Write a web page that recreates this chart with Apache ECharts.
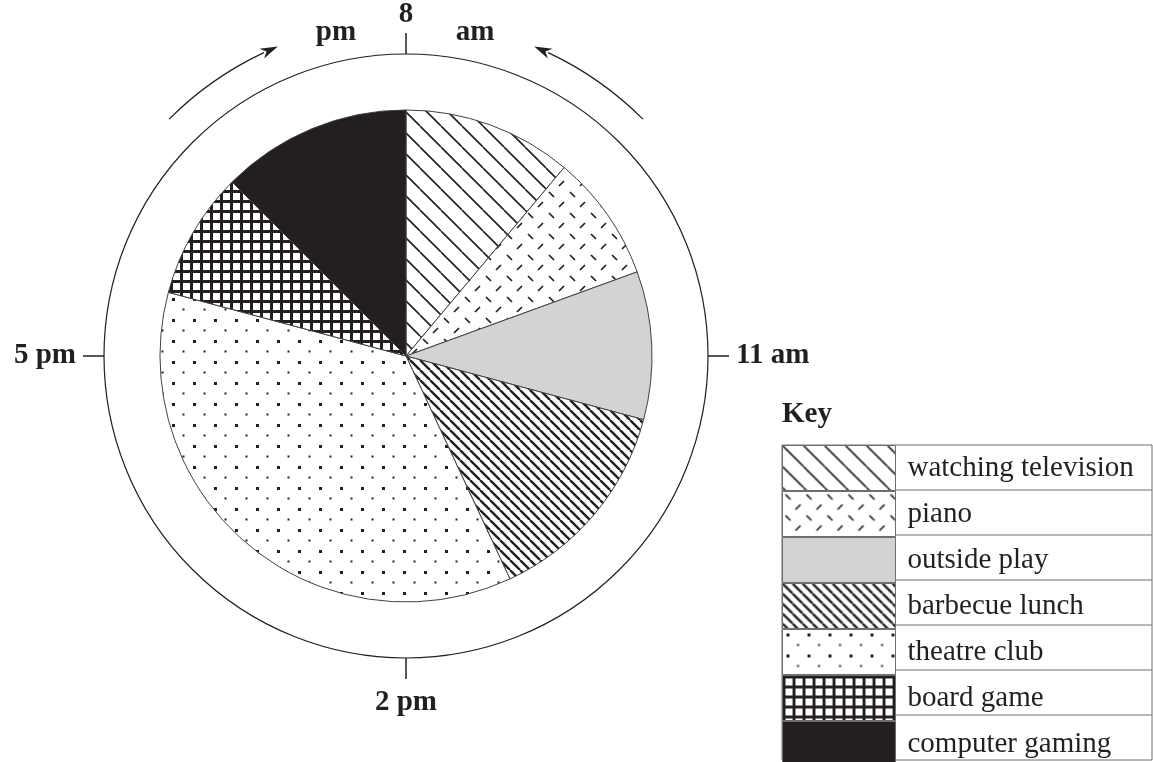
<!DOCTYPE html>
<html>
<head>
<meta charset="utf-8">
<title>Day activities</title>
<script src="https://cdn.jsdelivr.net/npm/echarts@6.0.0/dist/echarts.min.js"></script>
<style>
  html, body { margin: 0; padding: 0; background: #fff; }
  #chart { width: 1153px; height: 762px; }
</style>
</head>
<body>
<div id="chart"></div>
<script>
// data: minutes spent on each activity, starting at 8 am going clockwise
const activities = [
  'watching television',
  'piano',
  'outside play',
  'barbecue lunch',
  'theatre club',
  'board game',
  'computer gaming',
];
const minutes = [80, 60, 70, 100, 260, 60, 90];
const clockLabels = ['8', '11 am', '2 pm', '5 pm'];
const clockMinutes = 720;
const clockStep = 180;

const ink = '#231f20';
const font = 'Liberation Serif';
const cx = 406;
const cy = 356;
const arrowR = 335;

function tile(w, h, draw) {
  const c = document.createElement('canvas');
  c.width = w;
  c.height = h;
  const ctx = c.getContext('2d');
  ctx.fillStyle = '#fff';
  ctx.fillRect(0, 0, w, h);
  ctx.fillStyle = ink;
  ctx.strokeStyle = ink;
  draw(ctx);
  return { image: c, repeat: 'repeat' };
}

// "\" lines
function backslash(s, lw) {
  return tile(s, s, ctx => {
    ctx.lineWidth = lw;
    ctx.beginPath();
    [-1, 0, 1].forEach(k => {
      ctx.moveTo(k * s, 0);
      ctx.lineTo(k * s + s, s);
    });
    ctx.stroke();
  });
}

const patterns = [
  backslash(21, 1.6),
  tile(21, 21, ctx => {
    ctx.lineWidth = 1.7;
    ctx.beginPath();
    ctx.moveTo(3, 3); ctx.lineTo(8, 8);
    ctx.moveTo(18, 13); ctx.lineTo(13, 18);
    ctx.stroke();
  }),
  '#d1d3d4',
  backslash(10, 2.4),
  tile(21, 21, ctx => {
    ctx.fillRect(4, 4, 3, 3);
    ctx.fillRect(14.5, 14.5, 2, 2);
  }),
  tile(10, 10, ctx => {
    ctx.fillRect(0, 0, 10, 3);
    ctx.fillRect(0, 0, 3, 10);
  }),
  ink,
];

function pt(deg, r) {
  const a = (deg * Math.PI) / 180;
  return [cx + r * Math.sin(a), cy - r * Math.cos(a)];
}

// curved arrow along the clock, tail at `from`, head at `to` (degrees from top, clockwise)
function arrow(from, to) {
  const dir = to > from ? 1 : -1;
  const back = to - dir * 2.6;
  const a0 = ((Math.min(from, back) - 90) * Math.PI) / 180;
  const a1 = ((Math.max(from, back) - 90) * Math.PI) / 180;
  return [
    {
      type: 'arc',
      shape: { cx, cy, r: arrowR, startAngle: a0, endAngle: a1, clockwise: true },
      style: { stroke: ink, lineWidth: 1.3, fill: null },
    },
    {
      type: 'polygon',
      shape: { points: [pt(to, arrowR), pt(back - dir * 0.4, arrowR + 5.5), pt(back + dir * 0.5, arrowR), pt(back - dir * 0.4, arrowR - 5.5)] },
      style: { fill: ink },
    },
  ];
}

// key table lines
const keyLeft = 782;
const keyTop = 445;
const rowH = 45;
const swatchW = 113;
const keyRight = 1152;
const tableLines = [];
for (let i = 0; i <= activities.length; i++) {
  const y = keyTop + i * rowH;
  tableLines.push({ type: 'line', shape: { x1: keyLeft, y1: y, x2: keyRight, y2: y }, style: { stroke: '#6d6e70', lineWidth: 1 } });
}
[keyLeft, keyLeft + swatchW, keyRight].forEach(x => {
  tableLines.push({ type: 'line', shape: { x1: x, y1: keyTop, x2: x, y2: keyTop + rowH * activities.length }, style: { stroke: '#6d6e70', lineWidth: 1 } });
});

const labelFont = { fontFamily: font, fontSize: 29, fontWeight: 'bold', color: ink };

const option = {
  backgroundColor: '#fff',
  animation: false,
  title: {
    text: 'Key',
    left: keyLeft,
    top: 400,
    padding: 0,
    textStyle: { fontFamily: font, fontSize: 29, fontWeight: 'bold', color: ink, lineHeight: 30 },
  },
  legend: {
    orient: 'vertical',
    left: keyLeft,
    top: keyTop,
    height: 340,
    padding: 0,
    itemGap: 0,
    itemWidth: swatchW,
    itemHeight: rowH,
    icon: 'rect',
    selectedMode: false,
    itemStyle: { borderColor: '#6d6e70', borderWidth: 1 },
    textStyle: { fontFamily: font, fontSize: 29, color: ink, padding: [0, 0, 0, 7] },
    data: activities,
  },
  polar: { center: [cx, cy], radius: 302 },
  angleAxis: {
    type: 'value',
    min: 0,
    max: clockMinutes,
    interval: clockStep,
    startAngle: 90,
    clockwise: true,
    axisLine: { lineStyle: { color: ink, width: 1.2 } },
    axisTick: { show: true, inside: false, length: 21, lineStyle: { color: ink, width: 1.5 } },
    axisLabel: {
      margin: 28,
      ...labelFont,
      formatter: v => {
        if (v >= clockMinutes) return '';
        const i = Math.round(v / clockStep);
        if (i === 0) return '{t|' + clockLabels[i] + '}';
        if (i === 2) return '{b|' + clockLabels[i] + '}';
        return clockLabels[i];
      },
      rich: {
        t: { ...labelFont, lineHeight: 22 },
        b: { ...labelFont, lineHeight: 34 },
      },
    },
    splitLine: { show: false },
    splitArea: { show: false },
  },
  radiusAxis: { show: false, min: 0, max: 1 },
  graphic: [
    ...arrow(315, 337.5),
    ...arrow(45, 22.5),
    { type: 'text', x: 336, y: 33, style: { text: 'pm', font: 'bold 29px "Liberation Serif"', fill: ink, align: 'center', verticalAlign: 'middle' } },
    { type: 'text', x: 475, y: 33, style: { text: 'am', font: 'bold 29px "Liberation Serif"', fill: ink, align: 'center', verticalAlign: 'middle' } },
    ...tableLines,
  ],
  series: [
    {
      type: 'pie',
      center: [cx, cy],
      radius: 246,
      startAngle: 90,
      clockwise: true,
      label: { show: false },
      labelLine: { show: false },
      emphasis: { disabled: true },
      itemStyle: { borderColor: '#414042', borderWidth: 1 },
      data: activities.map((name, i) => ({
        name,
        value: minutes[i],
        itemStyle: { color: patterns[i] },
      })),
    },
  ],
};

const chart = echarts.init(document.getElementById('chart'));
chart.setOption(option);
</script>
</body>
</html>
